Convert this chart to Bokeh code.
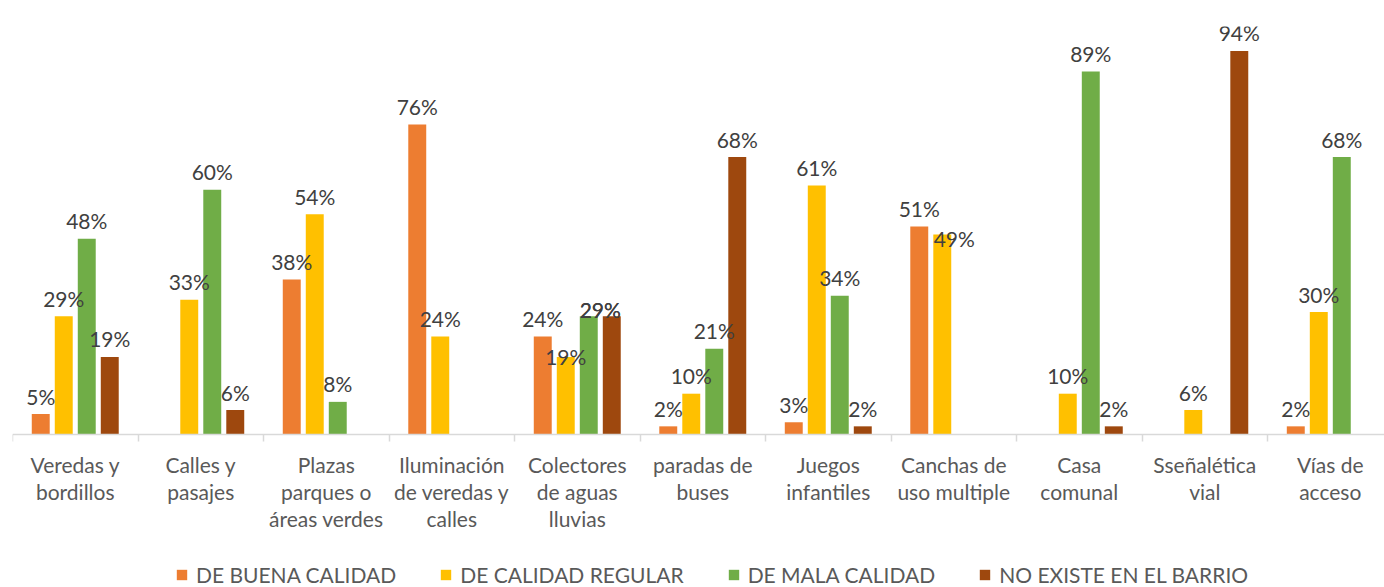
from bokeh.plotting import figure
from bokeh.models import Range1d, FixedTicker, Legend, LegendItem, ColumnDataSource
from bokeh.core.properties import value
from bokeh.embed import file_html
from bokeh.resources import INLINE

# ---- data ----
categories = [
    "Veredas y\nbordillos",
    "Calles y\npasajes",
    "Plazas\nparques o\náreas verdes",
    "Iluminación\nde veredas y\ncalles",
    "Colectores\nde aguas\nlluvias",
    "paradas de\nbuses",
    "Juegos\ninfantiles",
    "Canchas de\nuso multiple",
    "Casa\ncomunal",
    "Sseñalética\nvial",
    "Vías de\nacceso",
]
series_names = ["DE BUENA CALIDAD", "DE CALIDAD REGULAR", "DE MALA CALIDAD", "NO EXISTE EN EL BARRIO"]
buena = [5, None, 38, 76, 24, 2, 3, 51, None, None, 2]
regular = [29, 33, 54, 24, 19, 10, 61, 49, 10, 6, 30]
mala = [48, 60, 8, None, 29, 21, 34, None, 89, None, 68]
no_existe = [19, 6, None, None, 29, 68, 2, None, 2, 94, None]
series_values = [buena, regular, mala, no_existe]

# ---- style ----
colors = ["#ED7D31", "#FFC000", "#70AD47", "#9E480E"]
FONT = "Lato"
step = 0.1833
bar_w = 0.143
offsets = [(-1.5 + k) * step for k in range(4)]
# label nudges (series, category) -> (dx px, dy px) where Excel moved overlapping labels
nudges = {(1, 4): (0, 18), (2, 4): (11.5, 11), (3, 4): (-11.5, 11), (1, 7): (12, 22)}

n = len(categories)
p = figure(
    frame_width=1372, frame_height=561,
    x_range=Range1d(0, 10.932), y_range=Range1d(-37.5, 100),
    output_backend="svg", toolbar_location=None,
    y_axis_location=None,
    min_border_left=12, min_border_right=0, min_border_top=26, min_border_bottom=0,
)
p.grid.visible = False
p.outline_line_color = None
p.background_fill_color = "white"
p.border_fill_color = "white"

renderers = []
lx, ly, lt, lxo, lyo = [], [], [], [], []
for s, vals in enumerate(series_values):
    xs = [i + 0.5 + offsets[s] for i, v in enumerate(vals) if v is not None]
    tops = [v for v in vals if v is not None]
    src = ColumnDataSource(dict(x=xs, top=tops))
    r = p.vbar(x="x", top="top", bottom=0, width=bar_w, source=src,
               fill_color=colors[s], line_color=None)
    renderers.append(r)
    for i, v in enumerate(vals):
        if v is None:
            continue
        dx, dy = nudges.get((s, i), (0, 0))
        lx.append(i + 0.5 + offsets[s])
        ly.append(v)
        lt.append(f"{v}%")
        lxo.append(dx)
        lyo.append(-18 + dy)

lsrc = ColumnDataSource(dict(x=lx, y=ly, t=lt, xo=lxo, yo=lyo))
p.text(x="x", y="y", text="t", x_offset="xo", y_offset="yo", source=lsrc,
       text_font=value(FONT), text_font_size="21px", text_color="#404040",
       text_align="center", text_baseline="alphabetic")

ax = p.xaxis[0]
ax.fixed_location = 0
ax.ticker = FixedTicker(ticks=[i + 0.5 for i in range(n)], minor_ticks=list(range(0, n)))
ax.major_label_overrides = {i + 0.5: categories[i] for i in range(n)}
ax.axis_line_color = "#D9D9D9"
ax.axis_line_width = 1.5
ax.major_tick_in = 0
ax.major_tick_out = 0
ax.minor_tick_in = 0
ax.minor_tick_out = 7
ax.minor_tick_line_color = "#D9D9D9"
ax.minor_tick_line_width = 1.5
ax.major_label_standoff = 10
ax.major_label_text_font = FONT
ax.major_label_text_font_size = "21px"
ax.major_label_text_color = "#595959"
ax.major_label_text_line_height = 1.09

legend = Legend(
    items=[LegendItem(label=series_names[s], renderers=[renderers[s]]) for s in range(4)],
    orientation="horizontal", location=(163, 0),
    glyph_width=13, glyph_height=13, label_standoff=8, spacing=43,
    padding=0, margin=0, border_line_color=None, background_fill_alpha=0,
    label_text_font=FONT, label_text_font_size="21px", label_text_color="#595959",
)
p.add_layout(legend)

open("out.html", "w").write(file_html(p, INLINE))
